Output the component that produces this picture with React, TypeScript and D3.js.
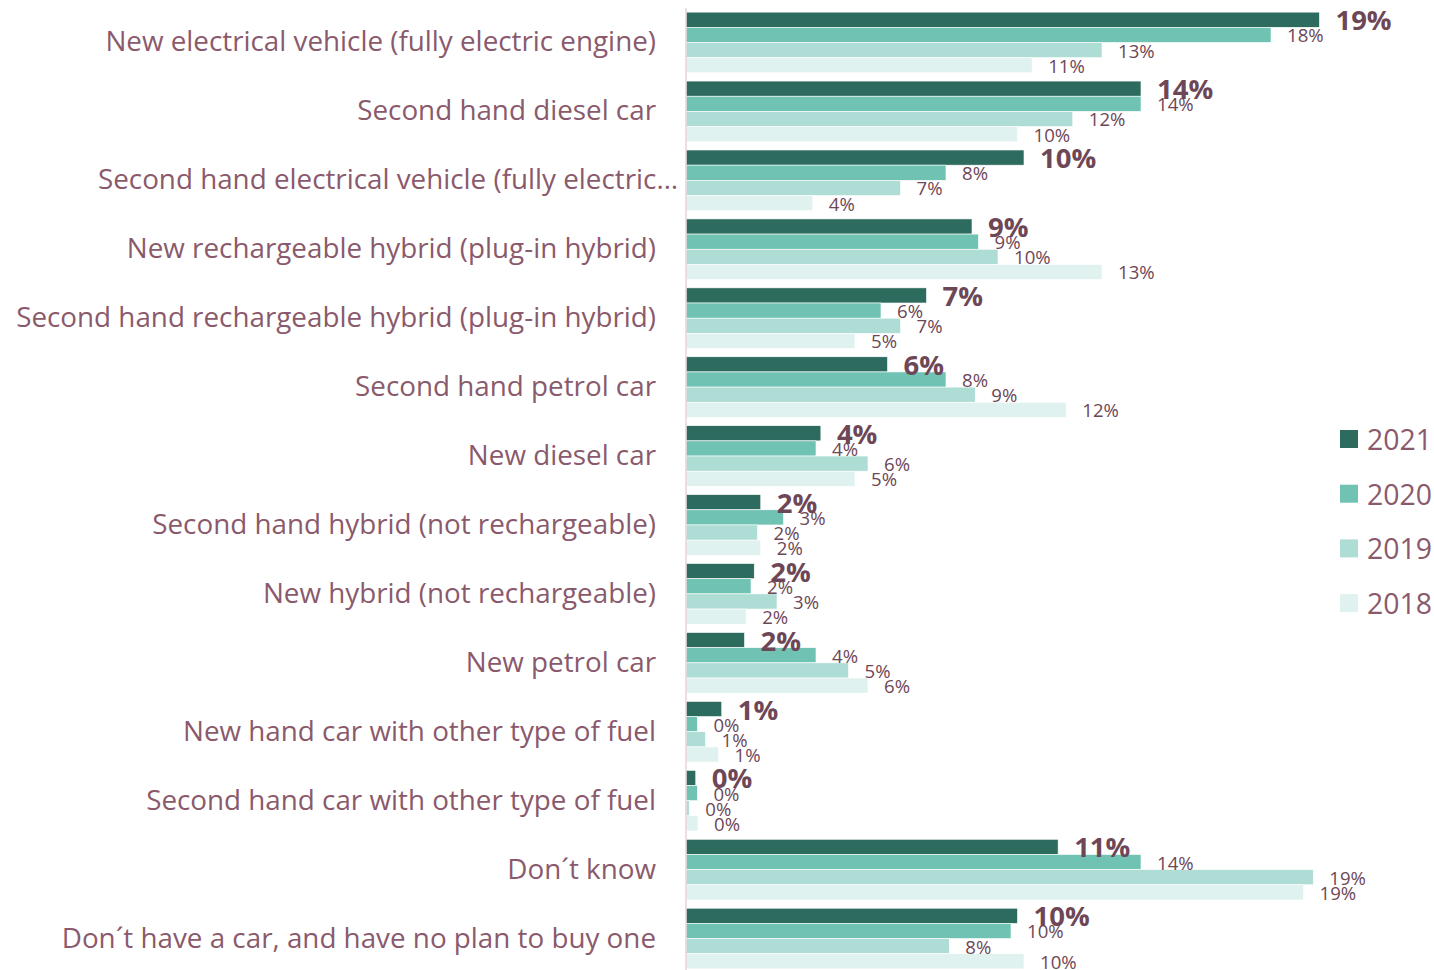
import React from "react";
import * as d3 from "d3";

const categories = [
  "New electrical vehicle (fully electric engine)",
  "Second hand diesel car",
  "Second hand electrical vehicle (fully electric…",
  "New rechargeable hybrid (plug-in hybrid)",
  "Second hand rechargeable hybrid (plug-in hybrid)",
  "Second hand petrol car",
  "New diesel car",
  "Second hand hybrid (not rechargeable)",
  "New hybrid (not rechargeable)",
  "New petrol car",
  "New hand car with other type of fuel",
  "Second hand car with other type of fuel",
  "Don´t know",
  "Don´t have a car, and have no plan to buy one",
];

const years = ["2021", "2020", "2019", "2018"];

const values2021 = [19.49, 14.0, 10.4, 8.8, 7.4, 6.2, 4.15, 2.3, 2.1, 1.8, 1.1, 0.3, 11.45, 10.2];
const values2020 = [18.0, 14.0, 8.0, 9.0, 6.0, 8.0, 4.0, 3.0, 2.0, 4.0, 0.35, 0.35, 14.0, 10.0];
const values2019 = [12.8, 11.9, 6.6, 9.6, 6.6, 8.9, 5.6, 2.2, 2.8, 5.0, 0.6, 0.1, 19.3, 8.1];
const values2018 = [10.65, 10.2, 3.9, 12.8, 5.2, 11.7, 5.2, 2.3, 1.85, 5.6, 1.0, 0.37, 19.0, 10.4];

const seriesValues = [values2021, values2020, values2019, values2018];
const colors = ["#2e6b5f", "#70c3b3", "#aeddd5", "#e0f2ef"];

const W = 1434;
const H = 970;
const axisX = 686;
const FONT = "'Open Sans', sans-serif";
const catColor = "#8a5a6c";
const lblColor = "#6e4757";

export default function App() {
  const y = d3
    .scaleBand<string>()
    .domain(categories)
    .range([8, 973])
    .paddingInner(0.12)
    .paddingOuter(0.06);
  const y1 = d3.scaleBand<string>().domain(years).range([0, y.bandwidth()]);
  const x = d3.scaleLinear().domain([0, 20]).range([axisX, axisX + 650]);

  return (
    <svg
      width={W}
      height={H}
      style={{ position: "absolute", left: 0, top: 0, fontFamily: FONT }}
    >
      <rect x={0} y={0} width={W} height={H} fill="#ffffff" />
      {categories.map((c) => {
        const truncated = c.endsWith("…");
        return (
          <text
            key={"cat" + c}
            x={truncated ? 678 : 656}
            y={(y(c) as number) + y.bandwidth() / 2 - 2}
            textAnchor="end"
            dominantBaseline="central"
            fontSize={27.8}
            fill={catColor}
          >
            {c}
          </text>
        );
      })}
      {categories.map((c, i) =>
        years.map((yr, s) => {
          const v = seriesValues[s][i];
          const by = (y(c) as number) + (y1(yr) as number);
          return (
            <rect
              key={"bar" + c + yr}
              x={axisX}
              y={by}
              width={x(v) - axisX}
              height={y1.bandwidth()}
              fill={colors[s]}
              stroke="#ffffff"
              strokeWidth={0.6}
            />
          );
        })
      )}
      <line x1={axisX} x2={axisX} y1={8} y2={H} stroke="#e6d3da" strokeWidth={1.5} />
      {categories.map((c, i) =>
        years
          .map((yr, s) => {
            const v = seriesValues[s][i];
            const by = (y(c) as number) + (y1(yr) as number);
            const bh = y1.bandwidth();
            return (
              <text
                key={"lbl" + c + yr}
                x={x(v) + 16}
                y={by + bh / 2}
                dominantBaseline="central"
                fontSize={s === 0 ? 27.5 : 18.6}
                fontWeight={s === 0 ? 700 : 400}
                fill={lblColor}
              >
                {Math.round(v) + "%"}
              </text>
            );
          })
          .reverse()
      )}
      {years.map((yr, s) => (
        <g key={yr} transform={`translate(1340, ${439 + s * 54.7})`}>
          <rect x={0} y={-9} width={18} height={18} fill={colors[s]} />
          <text x={27} y={0} dominantBaseline="central" fontSize={28.4} fill={catColor}>
            {yr}
          </text>
        </g>
      ))}
    </svg>
  );
}
